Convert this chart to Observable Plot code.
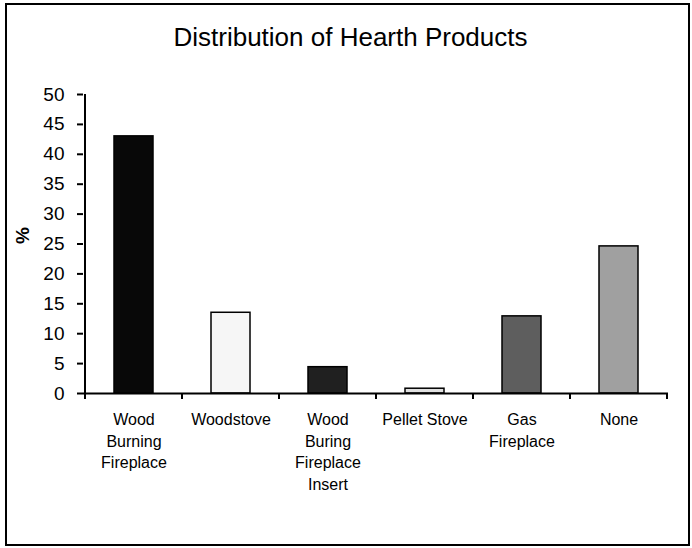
<!DOCTYPE html>
<html>
<head>
<meta charset="utf-8">
<script src="https://cdn.jsdelivr.net/npm/d3@7"></script>
<script src="https://cdn.jsdelivr.net/npm/@observablehq/plot@0.6"></script>
<style>
  html, body { margin: 0; padding: 0; background: #fff; }
  #wrap { position: relative; width: 692px; height: 548px; font-family: "Liberation Sans", Arial, sans-serif; }
  #border { position: absolute; left: 5px; top: 3px; width: 685px; height: 543px; border: 2.5px solid #000; box-sizing: border-box; }
  #title { position: absolute; left: 0; top: 22px; width: 701px; text-align: center; font-size: 26px; line-height: 30px; color: #000; }
  #chart { position: absolute; left: 0; top: 0; }
</style>
</head>
<body>
<div id="wrap">
  <div id="border"></div>
  <div id="title">Distribution of Hearth Products</div>
  <div id="chart"></div>
</div>
<script>
const categories = ["Wood Burning Fireplace", "Woodstove", "Wood Buring Fireplace Insert", "Pellet Stove", "Gas Fireplace", "None"];
const tickLabels = ["Wood\nBurning\nFireplace", "Woodstove", "Wood\nBuring\nFireplace\nInsert", "Pellet Stove", "Gas\nFireplace", "None"];
const values = [43, 13.5, 4.4, 0.8, 12.9, 24.6];
const colors = ["#080808", "#f6f6f6", "#202020", "#e0e0e0", "#5e5e5e", "#a0a0a0"];
const yTicks = [0, 5, 10, 15, 20, 25, 30, 35, 40, 45, 50];
const yLabel = "%";

const data = categories.map((c, i) => ({category: c, value: values[i], color: colors[i], label: tickLabels[i]}));

const edgeMark = (index, scales) => {
  const x = scales.x, y = scales.y;
  const step = x(categories[1]) - x(categories[0]);
  const bw = x.bandwidth ? x.bandwidth() : 0;
  const edges = categories.map(c => x(c) + bw / 2 - step / 2);
  edges.push(x(categories[categories.length - 1]) + bw / 2 + step / 2);
  const g = d3.create("svg:g").attr("stroke", "#000").attr("stroke-width", 2);
  const y0 = y(0);
  g.selectAll("line.t").data(edges).join("line")
    .attr("x1", d => d).attr("x2", d => d)
    .attr("y1", y0).attr("y2", y0 + 6);
  g.append("line")
    .attr("x1", edges[0]).attr("x2", edges[0])
    .attr("y1", y(0) + 1).attr("y2", y(50));
  return g.node();
};

const chart = Plot.plot({
  width: 692,
  height: 548,
  marginLeft: 83,
  marginRight: 24,
  marginTop: 94,
  marginBottom: 155,
  style: {fontFamily: "'Liberation Sans', Arial, sans-serif", background: "transparent", color: "#000"},
  x: {domain: categories, paddingInner: 0.6, paddingOuter: 0.3, axis: null},
  y: {domain: [0, 50], axis: null},
  marks: [
    Plot.barY(data, {x: "category", y: "value", fill: "color", stroke: "#000", strokeWidth: 1.5}),
    Plot.ruleY([0], {stroke: "#000", strokeWidth: 2}),
    Plot.axisY({ticks: yTicks, tickSize: 6, tickPadding: 13, fontSize: 19, strokeWidth: 2, label: null}),
    edgeMark,
    Plot.text(data, {x: "category", text: "label", frameAnchor: "bottom", lineAnchor: "top", dy: 16, fontSize: 16, lineHeight: 1.36, fill: "#000"}),
    Plot.text([yLabel], {text: d => d, frameAnchor: "left", dx: -61, rotate: -90, fontSize: 19, fontWeight: "bold", fill: "#000"})
  ]
});
document.getElementById("chart").appendChild(chart);
</script>
</body>
</html>
